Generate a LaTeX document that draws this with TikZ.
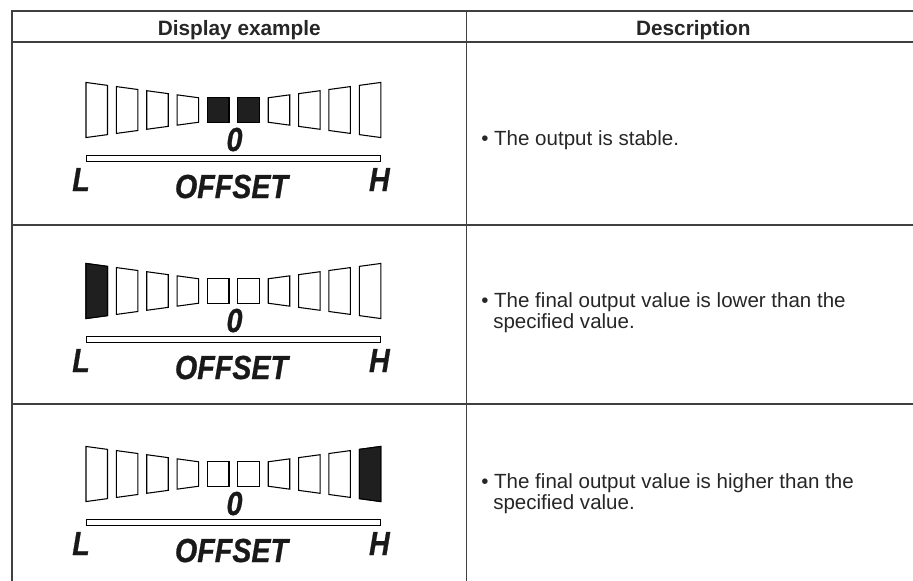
\documentclass[tikz,border=0pt]{standalone}
\usepackage{fontspec}
\usepackage{graphicx}
\setmainfont{Liberation Sans}
\newfontfamily\dispfont[FakeBold=0.8]{Liberation Sans}
\newcommand\cond[1]{\scalebox{0.86}[1]{#1}}
\newcommand\offsetdisplay[3]{%
  \begin{scope}[shift={(0,#1)}]
    \foreach \i in {1,...,10}{%
      \pgfmathsetmacro\xl{86+(\i-1)*30.37}%
      \pgfmathsetmacro\xr{\xl+21.5}%
      \pgfmathsetmacro\hl{max(12.15,7.5+0.136*abs(\xl-233.4))}%
      \pgfmathsetmacro\hr{max(12.15,7.5+0.136*abs(\xr-233.4))}%
      \draw[segline] (\xl,{110-\hl}) -- (\xr,{110-\hr}) -- (\xr,{110+\hr}) -- (\xl,{110+\hl}) -- cycle;
    }
    \foreach \i in {#2}{%
      \pgfmathsetmacro\xl{86+(\i-1)*30.37}%
      \pgfmathsetmacro\xr{\xl+21.5}%
      \pgfmathsetmacro\hl{max(12.15,7.5+0.136*abs(\xl-233.4))}%
      \pgfmathsetmacro\hr{max(12.15,7.5+0.136*abs(\xr-233.4))}%
      \draw[segfill] (\xl,{110-\hl}) -- (\xr,{110-\hr}) -- (\xr,{110+\hr}) -- (\xl,{110+\hl}) -- cycle;
    }
    \draw[segline,line width=0.7pt] (86,155) rectangle (380.7,161);
    \node[disp,anchor=base] (zero#3) at (234.5,151) {\cond{0}};
    \node[disp,anchor=base west] (L#3) at (72,191) {\cond{L}};
    \node[disp,anchor=base east] (H#3) at (390,191) {\cond{H}};
    \node[disp,anchor=base] (off#3) at (231.5,198) {\cond{OFFSET}};
  \end{scope}}
\begin{document}
\begin{tikzpicture}[x=0.75pt,y=-0.75pt,
  grid/.style={draw=black!75,line width=1.1pt},
  segline/.style={draw=black,line width=0.8pt,line join=miter},
  segfill/.style={segline,fill=black!88},
  disp/.style={font=\dispfont\fontsize{25}{25}\selectfont\bfseries\itshape,inner sep=0pt,text=black!90},
  hdr/.style={font=\fontsize{15.6}{18}\selectfont\bfseries,inner sep=0pt,anchor=base,text=black!85},
  desc/.style={font=\fontsize{15.4}{18}\selectfont,inner sep=0pt,anchor=base west,text=black!85}]
\useasboundingbox (0,0) rectangle (913,581);
% table rules
\draw[grid] (12,11) -- (913,11);
\draw[grid] (12,42) -- (913,42);
\draw[grid] (12,225) -- (913,225);
\draw[grid] (12,404) -- (913,404);
\draw[grid] (12,10.5) -- (12,581);
\draw[grid] (466.5,10.5) -- (466.5,581);
% headers
\node[hdr] (h1) at (239.3,36) {Display example};
\node[hdr] (h2) at (693.3,36) {Description};
% displays
\offsetdisplay{0}{5,6}{a}
\offsetdisplay{181}{1}{b}
\offsetdisplay{364}{10}{c}
% descriptions
\node[desc] (d1) at (481,146) {• The output is stable.};
\node[desc] (d2a) at (481,307) {• The final output value is lower than the};
\node[desc] (d2b) at (493,328) {specified value.};
\node[desc] (d3a) at (481,488) {• The final output value is higher than the};
\node[desc] (d3b) at (493,509) {specified value.};
\end{tikzpicture}
\end{document}
